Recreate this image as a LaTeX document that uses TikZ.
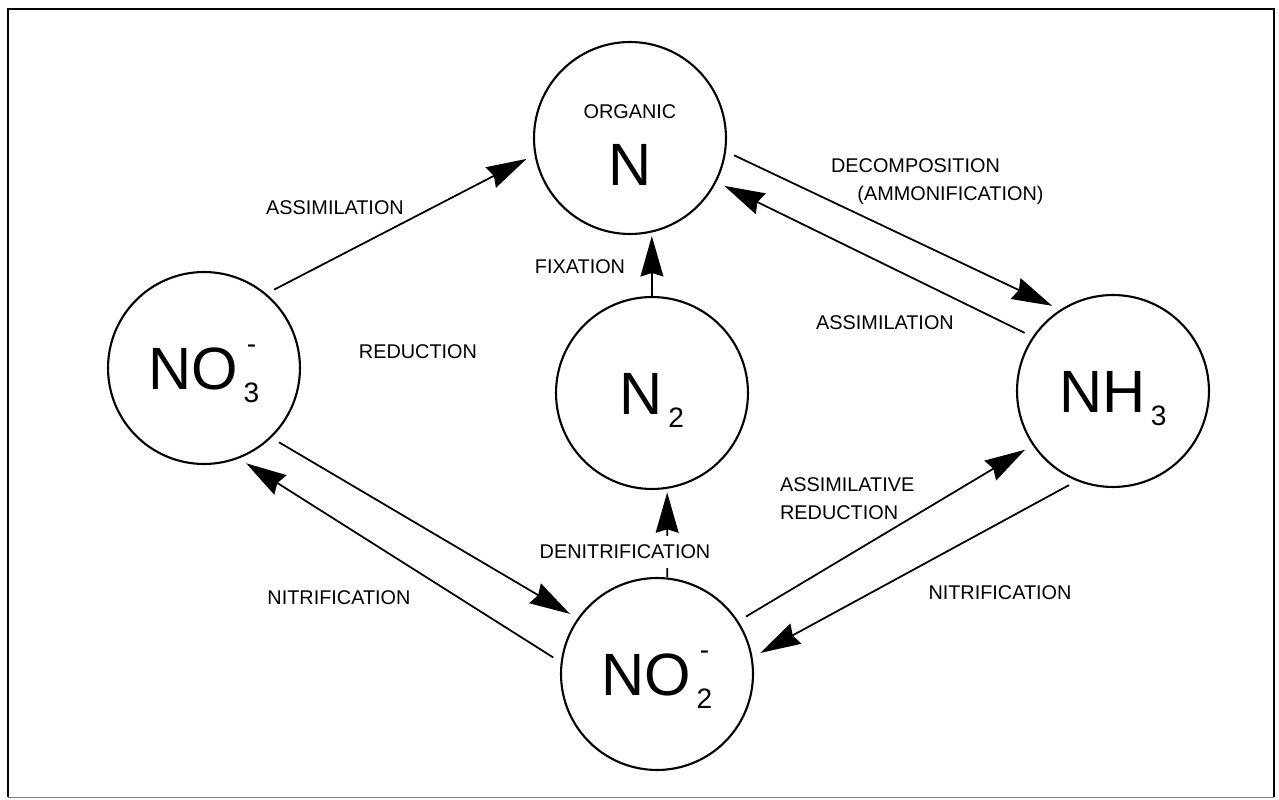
\documentclass[tikz,border=0pt]{standalone}
\usepackage{fontspec}
\setmainfont{Liberation Sans}
\usetikzlibrary{arrows.meta}
\newcommand{\labelfont}{\fontsize{11.3}{16}\selectfont}
\newcommand{\bigfont}{\fontsize{34}{38}\selectfont}
\newcommand{\subfont}{\fontsize{16}{16}\selectfont}
\newcommand{\ionsub}[1]{\raisebox{-7.5pt}{\subfont\kern3pt #1}}
\newcommand{\ionsubm}[1]{\raisebox{-7.5pt}{\subfont\kern3pt\rlap{\kern1.8pt\raisebox{28pt}{-}}#1}}

\begin{document}
\begin{tikzpicture}[x=0.02cm, y=-0.02cm]
\tikzset{pool/.style = {shape=circle, draw, line width=1.2pt, minimum size=3.84cm, inner sep=0pt, font=\bigfont}}
\tikzset{ion/.style = {text height=24.5pt, text depth=0pt}}
\tikzset{flow/.style = {draw, line width=1pt, -{Stealth[length=23pt, width=13pt, inset=2pt]}, shorten <=5pt, shorten >=5pt}}
\tikzset{tag/.style = {font=\labelfont, inner sep=1pt}}
\useasboundingbox (0,0) rectangle (1279,800);

% Draw the frame
\draw[line width=1.6pt] (8,797) -- (8,9) -- (1274,9) -- (1274,797);
\draw[gray, line width=0.4pt] (8,797) -- (1274,797);

% Define the nitrogen pools
\node[pool, align=center] (OrgN) at (630,138) {{\labelfont\rule{0pt}{16pt}ORGANIC}\\N};
\node[pool, ion] (N2) at (652,393) {N\ionsub{2}};
\node[pool, ion] (NO3) at (204,368) {NO\ionsubm{3}};
\node[pool, ion] (NH3) at (1113,391) {NH\ionsub{3}};
\node[pool, ion] (NO2) at (657,674) {NO\ionsubm{2}};

% Draw the transformations
\draw[flow] (NO3.50) -- (OrgN.190);
\draw[flow] (OrgN.-8) -- (NH3.123);
\draw[flow] (NH3.146) -- (OrgN.-27);
\draw[flow, shorten <=0pt, shorten >=2pt] (N2.north) -- (OrgN.-77);
\draw[flow, shorten <=0pt, shorten >=2pt] (NO2.84) -- (N2.-81);
\draw[flow] (NO3.-46) -- (NO2.145);
\draw[flow] (NO2.173) -- (NO3.-69);
\draw[flow] (NO2.33) -- (NH3.-146);
\draw[flow] (NH3.-112) -- (NO2.10);

% Labels of the transformations
\node[tag] (lAssimL) at (335,208) {ASSIMILATION};
\node[tag, align=left, anchor=west] (lDecomp) at (829,182) {DECOMPOSITION\\\hspace*{15pt}(AMMONIFICATION)};
\node[tag] (lAssimR) at (885,323) {ASSIMILATION};
\node[tag] (lFix) at (580,267) {FIXATION};
\node[tag] (lRed) at (418,352) {REDUCTION};
\node[tag, fill=white, inner ysep=5pt] (lDenit) at (625,552) {DENITRIFICATION};
\node[tag, align=left, anchor=west] (lAssimRed) at (778,499) {ASSIMILATIVE\\REDUCTION};
\node[tag] (lNitrR) at (1000,593) {NITRIFICATION};
\node[tag] (lNitrL) at (339,598) {NITRIFICATION};
\end{tikzpicture}
\end{document}
